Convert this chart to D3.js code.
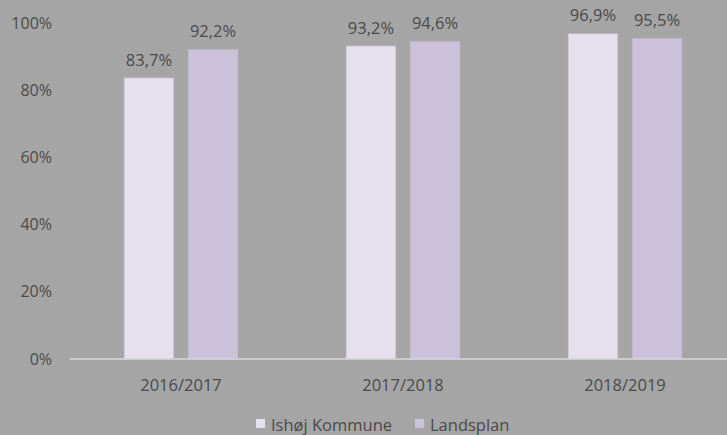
<!DOCTYPE html>
<html>
<head>
<meta charset="utf-8">
<script src="https://cdn.jsdelivr.net/npm/d3@7"></script>
<style>
  body { margin: 0; background: #a5a5a5; }
  text { font-family: "Open Sans", Lato, sans-serif; fill: #4a4a4a; }
</style>
</head>
<body>
<svg width="727" height="435"></svg>
<script>
var categories = ["2016/2017", "2017/2018", "2018/2019"],
    seriesNames = ["Ishøj Kommune", "Landsplan"],
    ishoj = [83.7, 93.2, 96.9],
    landsplan = [92.2, 94.6, 95.5],
    yTicks = [0, 20, 40, 60, 80, 100],
    colors = ["#e6e0ec", "#ccc1da"];

var svg = d3.select("svg"),
    margin = {top: 23, right: -9, bottom: 76, left: 70},
    width = +svg.attr("width") - margin.left - margin.right,
    height = +svg.attr("height") - margin.top - margin.bottom;

svg.append("rect").attr("width", 727).attr("height", 435).attr("fill", "#a5a5a5");

var x0 = d3.scaleBand().domain(categories).range([0, width]);
var x1 = d3.scaleBand().domain(seriesNames).range([0, 114]).paddingInner(0.22);
var y = d3.scaleLinear().domain([0, 100]).range([height, 0]);

var g = svg.append("g")
    .attr("transform", "translate(" + margin.left + "," + margin.top + ")");

// y labels
g.selectAll(".ylab")
  .data(yTicks)
  .enter().append("text")
    .attr("x", -18)
    .attr("y", function(d) { return y(d); })
    .attr("dy", "0.35em")
    .attr("text-anchor", "end")
    .style("font-size", "16px")
    .text(function(d) { return d + "%"; });

var data = categories.map(function(c, i) {
  return {cat: c, values: [ishoj[i], landsplan[i]]};
});

var groups = g.selectAll(".grp")
  .data(data)
  .enter().append("g")
    .attr("transform", function(d) {
      return "translate(" + (x0(d.cat) + x0.bandwidth() / 2 - 57) + ",0)";
    });

groups.selectAll("rect")
  .data(function(d) { return d.values.map(function(v, i) { return {name: seriesNames[i], v: v, i: i}; }); })
  .enter().append("rect")
    .attr("x", function(d) { return x1(d.name); })
    .attr("y", function(d) { return y(d.v); })
    .attr("width", x1.bandwidth())
    .attr("height", function(d) { return height - y(d.v); })
    .attr("fill", function(d) { return colors[d.i]; })
    .attr("stroke", "#b4aebb")
    .attr("stroke-width", 0.8);

groups.selectAll(".lab")
  .data(function(d) { return d.values.map(function(v, i) { return {name: seriesNames[i], v: v}; }); })
  .enter().append("text")
    .attr("x", function(d) { return x1(d.name) + x1.bandwidth() / 2; })
    .attr("y", function(d) { return y(d.v) - 12; })
    .attr("text-anchor", "middle")
    .style("font-size", "16.5px")
    .text(function(d) { return d.v.toFixed(1).replace(".", ",") + "%"; });

// x axis line
g.append("line")
    .attr("x1", 0).attr("x2", width)
    .attr("y1", height).attr("y2", height)
    .attr("stroke", "#d9d9d9")
    .attr("stroke-width", 1.5);

g.selectAll(".xlab")
  .data(categories)
  .enter().append("text")
    .attr("x", function(d) { return x0(d) + x0.bandwidth() / 2; })
    .attr("y", height + 32)
    .attr("text-anchor", "middle")
    .style("font-size", "16.5px")
    .text(function(d) { return d; });

// legend
var legend = svg.append("g");
var legX = [256, 415];
seriesNames.forEach(function(n, i) {
  legend.append("rect")
    .attr("x", legX[i]).attr("y", 419)
    .attr("width", 9).attr("height", 9)
    .attr("fill", colors[i]);
  legend.append("text")
    .attr("x", legX[i] + 15).attr("y", 431)
    .style("font-size", "16.5px")
    .text(n);
});
</script>
</body>
</html>
